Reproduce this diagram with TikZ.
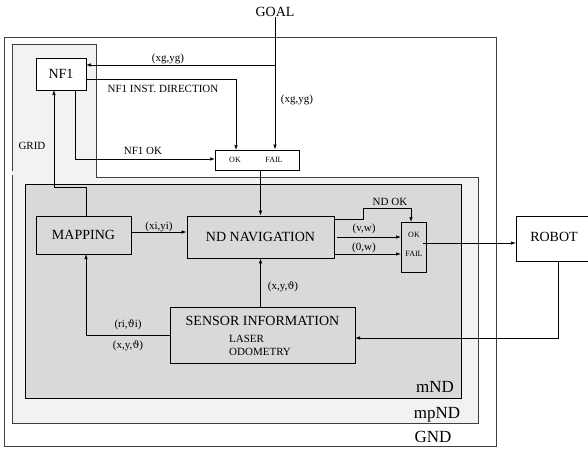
\documentclass[tikz,border=0pt]{standalone}
\usepackage{fontspec}
\setmainfont{Liberation Serif}
\newfontfamily\symf{DejaVu Serif}
\usetikzlibrary{arrows.meta}
\definecolor{lightreg}{HTML}{F2F2F2}
\definecolor{darkreg}{HTML}{D9D9D9}
\definecolor{edge}{HTML}{404040}
\newcommand{\vth}{{\symf\fontsize{10}{12}\selectfont ϑ}}
\tikzset{
  blk/.style={draw=black, line width=0.8pt, inner sep=0pt, font=\fontsize{14}{16}\selectfont},
  lbl/.style={inner sep=0pt, font=\fontsize{11}{13}\selectfont},
  tiny/.style={inner sep=0pt, font=\fontsize{8}{10}\selectfont},
  big/.style={inner sep=0pt, font=\fontsize{17}{19}\selectfont},
  conn/.style={draw=black, line width=0.7pt},
  arr/.style={conn, -{Latex[length=5pt,width=3.5pt]}},
  region/.style={draw=edge, line width=1pt}
}
\begin{document}
\begin{tikzpicture}[x=1pt,y=-1pt]
\useasboundingbox (0,0) rectangle (588,453);
% regions
\filldraw[region, fill=white] (4,37) rectangle (496,446);
\fill[lightreg] (12,44) -- (96,44) -- (96,177) -- (478,177) -- (478,423) -- (12,423) -- cycle;
\draw[region] (12,171) -- (12,44) -- (96,44) -- (96,177) -- (478,177) -- (478,423) -- (12,423) -- (12,175);
\filldraw[region, draw=black, fill=darkreg] (25,184) rectangle (461,398);
% nodes
\node[blk, fill=white, minimum width=50pt, minimum height=32pt] (nf1) at (61,74) {NF1};
\node[blk, fill=white, minimum width=84pt, minimum height=20pt] (okf) at (257,160) {};
\node[tiny] (okfok) at (235,160) {OK};
\node[tiny] (okffail) at (274,160) {FAIL};
\node[blk, fill=darkreg, minimum width=95pt, minimum height=38pt] (map) at (83.5,235) {MAPPING};
\node[blk, fill=darkreg, minimum width=147pt, minimum height=42pt] (nd) at (260.5,237) {ND NAVIGATION};
\node[blk, fill=darkreg, minimum width=185pt, minimum height=56pt] (sens) at (262.5,335) {};
\node[blk, draw=none] (senst) at (262.5,321) {SENSOR INFORMATION};
\node[lbl, anchor=west] (laser) at (229,339) {LASER};
\node[lbl, anchor=west] (odo) at (229,351.5) {ODOMETRY};
\node[blk, fill=darkreg, minimum width=25pt, minimum height=50pt] (sw) at (413.5,247) {};
\node[tiny] (swok) at (414,235) {OK};
\node[tiny] (swfail) at (414,254) {FAIL};
\node[blk, fill=white, minimum width=90pt, minimum height=45pt] (robot) at (561,238.5) {};
\node[blk, draw=none] (robott) at (554,237) {ROBOT};
\node[blk, draw=none] (goal) at (275,12) {GOAL};
% coordinates
\coordinate (g1) at (275,65);
\coordinate (n1) at (86,65);
\coordinate (d0) at (86,79);
\coordinate (d1) at (236,79);
\coordinate (d2) at (236,150);
\coordinate (k0) at (75,90);
\coordinate (k1) at (75,159);
\coordinate (k2) at (215,159);
\coordinate (r0) at (86,216);
\coordinate (r1) at (86,187);
\coordinate (r2) at (54,187);
\coordinate (r3) at (54,90);
\coordinate (s0) at (170,335);
\coordinate (s1) at (86,335);
\coordinate (s2) at (86,254);
\coordinate (o0) at (334,219);
\coordinate (o1) at (363,219);
\coordinate (o2) at (363,208);
\coordinate (o3) at (411,208);
\coordinate (o4) at (411,222);
\coordinate (v0) at (337,237);
\coordinate (v1) at (401,237);
\coordinate (z0) at (334,254);
\coordinate (z1) at (401,254);
\coordinate (q0) at (423,243);
\coordinate (q1) at (516,243);
\coordinate (b0) at (558,261);
\coordinate (b1) at (558,338);
\coordinate (b2) at (355,338);
% connectors
\draw[arr] (goal.south) -- (goal.south |- okf.north);
\draw[arr] (g1) -- (n1);
\draw[arr] (d0) -- (d1) -- (d2);
\draw[arr] (k0) -- (k1) -- (k2);
\draw[arr] (r0) -- (r1) -- (r2) -- (r3);
\draw[arr] (okf.south -| nd.north) -- (nd.north);
\draw[arr] (map.east |- 0,232) -- (nd.west |- 0,232);
\draw[arr] (sens.north -| nd.south) -- (nd.south);
\draw[arr] (s0) -- (s1) -- (s2);
\draw[arr] (o0) -- (o1) -- (o2) -- (o3) -- (o4);
\draw[arr] (v0) -- (v1);
\draw[arr] (z0) -- (z1);
\draw[arr] (q0) -- (q1);
\draw[arr] (b0) -- (b1) -- (b2);
% labels
\node[lbl] (l1) at (168,59) {(xg,yg)};
\node[lbl] (l2) at (163,89) {NF1 INST. DIRECTION};
\node[lbl] (l3) at (297,100) {(xg,yg)};
\node[lbl] (l4) at (143,151) {NF1 OK};
\node[lbl] (l5) at (32,146) {GRID};
\node[lbl] (l6) at (159,227) {(xi,yi)};
\node[lbl] (l7) at (283,287) {(x,y,\vth)};
\node[lbl] (l8) at (128,325) {(ri,\vth i)};
\node[lbl] (l9) at (128,346) {(x,y,\vth)};
\node[lbl] (l10) at (390,202) {ND OK};
\node[lbl] (l11) at (364,229) {(v,w)};
\node[lbl] (l12) at (364,248) {(0,w)};
\node[big] (mnd) at (435,387) {mND};
\node[big] (mpnd) at (437,415) {mpND};
\node[big] (gnd) at (433,437) {GND};
\end{tikzpicture}
\end{document}
